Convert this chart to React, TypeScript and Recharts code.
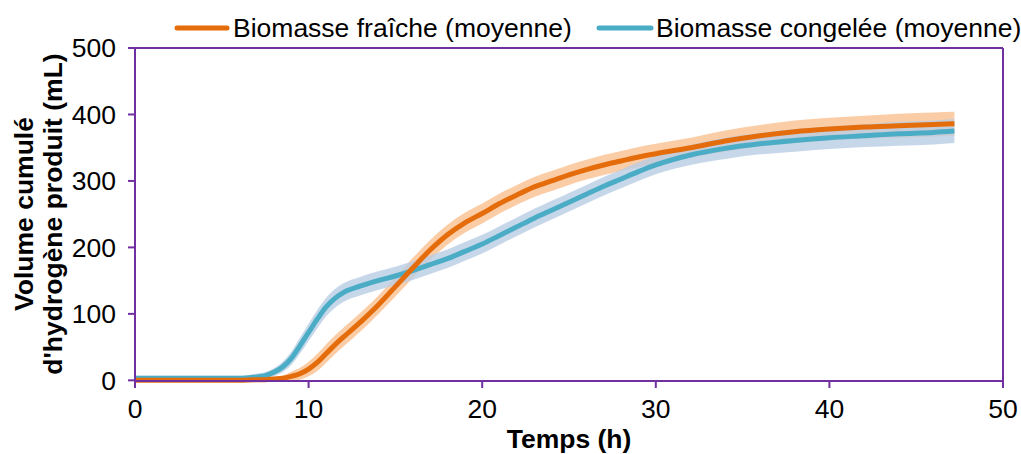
import React from 'react';
import { ComposedChart, Line, Area, XAxis, YAxis, ReferenceLine } from 'recharts';

const hours = [0, 2, 4, 6, 7, 7.5, 8, 8.5, 9, 9.5, 10, 10.5, 11, 11.5, 12, 13, 14, 15, 16, 17, 18, 19, 20, 21, 22, 23, 24, 25, 26, 27, 28, 29, 30, 32, 34, 36, 38, 40, 42, 44, 46, 47.2];
const fresh = [0, 0, 0, 0, 1, 1, 2, 3, 6, 10, 17, 27, 40, 53, 65, 88, 113, 141, 169, 196, 219, 237, 251, 266, 279, 291, 300, 309, 317, 324, 330, 336, 341, 350, 360, 368, 374, 378, 381, 383, 385, 386];
const frozen = [3, 3, 3, 3, 5, 7, 12, 20, 33, 52, 72, 92, 110, 123, 132, 142, 150, 157, 165, 174, 183, 194, 205, 218, 231, 244, 256, 268, 280, 292, 303, 314, 324, 339, 349, 356, 361, 365, 368, 371, 373, 375];
const freshErr = [1, 1, 1, 1, 2, 2, 3, 4, 7, 9, 11, 13, 14, 14, 14, 14, 14, 15, 15, 15, 15, 15, 15, 15, 15, 15, 15, 15, 15, 15, 15, 15, 15, 15, 16, 16, 17, 17, 17, 18, 18, 18];
const frozenErr = [4, 4, 4, 4, 5, 5, 6, 8, 10, 12, 13, 14, 14, 14, 14, 14, 14, 14, 14, 14, 14, 14, 14, 14, 14, 14, 14, 14, 14, 14, 14, 14, 14, 15, 16, 16, 17, 17, 17, 18, 18, 18];
const xTicks = [0, 10, 20, 30, 40, 50];
const yTicks = [0, 100, 200, 300, 400, 500];
const seriesNames = ['Biomasse fraîche (moyenne)', 'Biomasse congelée (moyenne)'];

const data = hours.map((h, i) => ({
  h,
  fresh: fresh[i],
  frozen: frozen[i],
  freshBand: [fresh[i] - freshErr[i], fresh[i] + freshErr[i]],
  frozenBand: [frozen[i] - frozenErr[i], frozen[i] + frozenErr[i]],
}));

const PURPLE = '#7030A0';
const ORANGE = '#E46C0A';
const BLUE = '#4BACC6';
const FONT = '"Liberation Sans", Arial, sans-serif';
const FS = 26.5;

const LegendOverlay = () => (
  <svg width={1021} height={48} style={{ position: 'absolute', left: 0, top: 0, pointerEvents: 'none' }}>
    <g fontFamily={FONT} fontSize={FS} fill="#000">
      <line x1={177} y1={28} x2={227} y2={28} stroke={ORANGE} strokeWidth={5} strokeLinecap="round" />
      <text x={233} y={37}>{seriesNames[0]}</text>
      <line x1={599} y1={28} x2={651} y2={28} stroke={BLUE} strokeWidth={5} strokeLinecap="round" />
      <text x={656} y={37}>{seriesNames[1]}</text>
    </g>
  </svg>
);

const YLabel = () => (
  <g fontFamily={FONT} fontSize={FS} fontWeight="bold" fill="#000">
    <text x={33} y={214} transform="rotate(-90 33 214)" textAnchor="middle">Volume cumulé</text>
    <text x={62} y={214} transform="rotate(-90 62 214)" textAnchor="middle">d'hydrogène produit (mL)</text>
  </g>
);

const XLabel = () => (
  <text x={569} y={448} textAnchor="middle" fontFamily={FONT} fontSize={FS} fontWeight="bold" fill="#000">Temps (h)</text>
);

export default function App() {
  return (
    <div style={{ position: 'absolute', left: 0, top: 0, width: 1021, height: 454, background: '#fff' }}>
      <ComposedChart width={1021} height={454} data={data} margin={{ top: 48, right: 18, bottom: 0, left: 0 }}>
        <XAxis
          dataKey="h"
          type="number"
          domain={[0, 50]}
          ticks={xTicks}
          height={73}
          stroke={PURPLE}
          axisLine={{ stroke: PURPLE, strokeWidth: 2 }}
          tickLine={{ stroke: PURPLE, strokeWidth: 2 }}
          tickSize={7}
          tickMargin={11}
          tick={{ fill: '#000', fontSize: FS, fontFamily: FONT }}
          label={{ content: () => <XLabel /> }}
        />
        <YAxis
          type="number"
          domain={[0, 500]}
          ticks={yTicks}
          width={135}
          stroke={PURPLE}
          axisLine={{ stroke: PURPLE, strokeWidth: 2 }}
          tickLine={{ stroke: PURPLE, strokeWidth: 2 }}
          tickSize={7}
          tickMargin={12}
          tick={{ fill: '#000', fontSize: FS, fontFamily: FONT }}
          label={{ content: () => <YLabel /> }}
        />
        <ReferenceLine y={500} stroke={PURPLE} strokeWidth={2} />
        <ReferenceLine x={50} stroke={PURPLE} strokeWidth={2} />
        <Area dataKey="freshBand" type="monotone" stroke="none" fill="#FAC090" fillOpacity={0.8} isAnimationActive={false} />
        <Area dataKey="frozenBand" type="monotone" stroke="none" fill="#B9CDE5" fillOpacity={0.8} isAnimationActive={false} />
        <Line dataKey="frozen" name={seriesNames[1]} type="monotone" stroke={BLUE} strokeWidth={5} dot={false} isAnimationActive={false} />
        <Line dataKey="fresh" name={seriesNames[0]} type="monotone" stroke={ORANGE} strokeWidth={5} dot={false} isAnimationActive={false} />
      </ComposedChart>
      <LegendOverlay />
    </div>
  );
}
